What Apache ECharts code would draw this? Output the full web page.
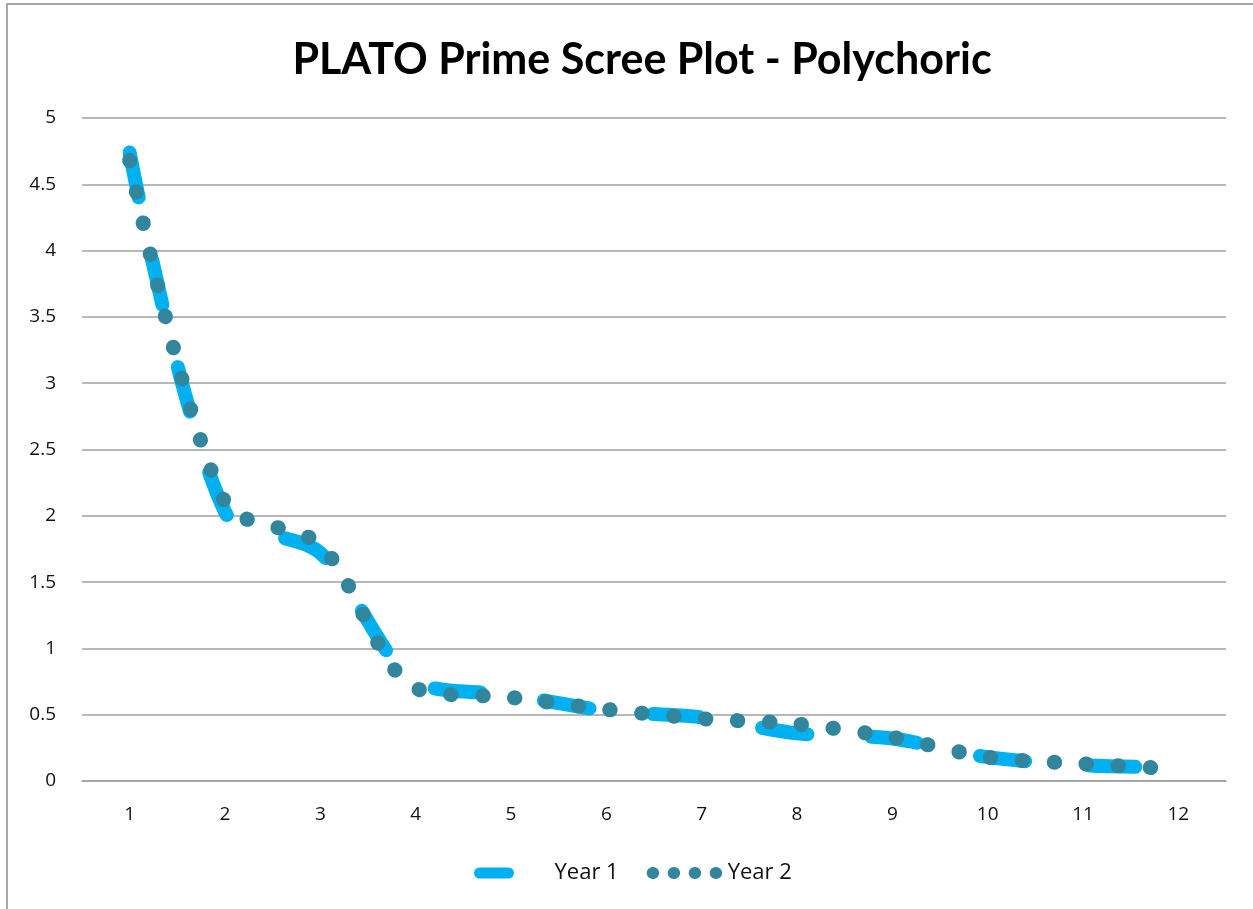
<!DOCTYPE html>
<html>
<head>
<meta charset="utf-8">
<script src="https://cdn.jsdelivr.net/npm/echarts@6/dist/echarts.min.js"></script>
<style>
html,body{margin:0;padding:0;background:#fff;}
#chart{width:1253px;height:909px;}
</style>
</head>
<body>
<div id="chart"></div>
<script>
const titleText = 'PLATO Prime Scree Plot - Polychoric';
const categories = ['1','2','3','4','5','6','7','8','9','10','11','12'];
const year1 = [4.74, 2.03, 1.72, 0.75, 0.65, 0.53, 0.48, 0.36, 0.32, 0.18, 0.12, 0.10];
const year2 = [4.68, 2.10, 1.78, 0.70, 0.63, 0.54, 0.47, 0.43, 0.33, 0.18, 0.13, 0.09];
const seriesNames = ['Year 1', 'Year 2'];
const yMin = 0, yMax = 5, yInterval = 0.5;

const chart = echarts.init(document.getElementById('chart'), null, {renderer: 'canvas'});
const fontFam = 'Lato, "Open Sans", sans-serif';
chart.setOption({
  animation: false,
  backgroundColor: '#ffffff',
  graphic: [{
    type: 'rect',
    shape: {x: 7, y: 4, width: 1400, height: 1000},
    style: {fill: 'none', stroke: '#8c8c8c', lineWidth: 1.5},
    silent: true,
    z: -10
  }],
  title: {
    text: titleText,
    left: 637,
    textAlign: 'center',
    top: 34,
    textStyle: {fontFamily: fontFam, fontWeight: 'bold', fontSize: 43, color: '#000'}
  },
  legend: {
    left: 469,
    top: 857,
    itemWidth: 70,
    itemHeight: 14,
    itemGap: 28,
    textStyle: {fontFamily: '"Open Sans", sans-serif', fontSize: 22, color: '#111'},
    data: [
      {name: seriesNames[0], itemStyle: {opacity: 0}, lineStyle: {type: [29, 100], width: 11, cap: 'round', color: '#00B0F0'}},
      {name: seriesNames[1], itemStyle: {opacity: 0}, lineStyle: {type: [0.5, 20.5], width: 12, cap: 'round', color: '#31859C'}}
    ]
  },
  grid: {left: 82, right: 27, top: 118, bottom: 128, containLabel: false},
  xAxis: {
    type: 'category',
    data: categories,
    boundaryGap: true,
    axisTick: {show: false},
    axisLine: {show: true, lineStyle: {color: '#a0a0a0', width: 1.5}},
    axisLabel: {margin: 24, fontFamily: '"Open Sans", sans-serif', fontSize: 19, color: '#111'}
  },
  yAxis: {
    type: 'value',
    min: yMin, max: yMax, interval: yInterval,
    axisTick: {show: false},
    axisLine: {show: false},
    splitLine: {show: true, lineStyle: {color: '#a0a0a0', width: 1.5}},
    axisLabel: {margin: 26, fontFamily: '"Open Sans", sans-serif', fontSize: 19, color: '#111'}
  },
  series: [
    {
      name: seriesNames[0],
      type: 'line',
      data: year1,
      smooth: 0.3,
      symbol: 'none',
      showSymbol: false,
      lineStyle: {color: '#00B0F0', width: 14, type: [46, 64], cap: 'round', join: 'round'},
      itemStyle: {color: '#00B0F0'},
      z: 2
    },
    {
      name: seriesNames[1],
      type: 'line',
      data: year2,
      smooth: 0.3,
      symbol: 'none',
      showSymbol: false,
      lineStyle: {color: '#31859C', width: 15, type: [0.5, 31.5], cap: 'round', join: 'round'},
      itemStyle: {color: '#31859C'},
      z: 3
    }
  ]
});
</script>
</body>
</html>
